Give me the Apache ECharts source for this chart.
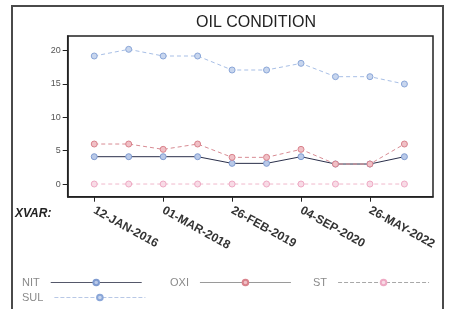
<!DOCTYPE html>
<html>
<head>
<meta charset="utf-8">
<script src="https://cdn.jsdelivr.net/npm/echarts@6/dist/echarts.min.js"></script>
<style>
  html, body { margin: 0; padding: 0; background: #fff; }
  #chart { width: 450px; height: 309px; }
</style>
</head>
<body>
<div id="chart"></div>
<script>
const dates = [
  "12-JAN-2016", "15-JUN-2017", "01-MAR-2018", "20-SEP-2018", "26-FEB-2019",
  "10-NOV-2019", "04-SEP-2020", "18-MAR-2021", "26-MAY-2022", "14-NOV-2022"
];
const sulValues = [19.2, 20.2, 19.2, 19.2, 17.1, 17.1, 18.1, 16.1, 16.1, 15.0];
const oxiValues = [6.0, 6.0, 5.2, 6.0, 4.0, 4.0, 5.2, 3.0, 3.0, 6.0];
const nitValues = [4.1, 4.1, 4.1, 4.1, 3.1, 3.1, 4.1, 3.0, 3.0, 4.1];
const stValues = [0, 0, 0, 0, 0, 0, 0, 0, 0, 0];
const yTicks = [0, 5, 10, 15, 20];
const xTickIdx = [0, 2, 4, 6, 8];

function pairs(values) {
  return values.map((v, i) => [i, v]);
}

function lineSeries(name, values, lineColor, dash, markColor, markFill) {
  return {
    name,
    type: "line",
    data: pairs(values),
    symbol: "circle",
    symbolSize: 6,
    lineStyle: { color: lineColor, width: 1, type: dash },
    itemStyle: { color: markFill, borderColor: markColor, borderWidth: 1 },
    emphasis: { disabled: true },
  };
}

// one legend box per entry so each sits where the SAS legend put it
function legendEntry(name, left, top, lineColor, dash) {
  return {
    left,
    top,
    orient: "horizontal",
    align: "right",
    itemWidth: 91,
    itemHeight: 7,
    selectedMode: false,
    textStyle: {
      color: "#8a8a8a",
      fontSize: 11,
      fontFamily: "Liberation Sans",
      padding: [0, 6, 0, 0],
    },
    data: [{ name, lineStyle: { color: lineColor, type: dash, width: 1 } }],
  };
}

const chart = echarts.init(document.getElementById("chart"), null, { renderer: "canvas" });

chart.setOption({
  animation: false,
  title: {
    text: "OIL CONDITION",
    left: 251,
    top: 10,
    textAlign: "center",
    textStyle: { fontFamily: "Liberation Sans", fontSize: 16, fontWeight: "normal", color: "#222" },
  },
  graphic: [
    {
      type: "rect",
      shape: { x: 12, y: 6, width: 431, height: 320 },
      style: { fill: "none", stroke: "#4a4a4a", lineWidth: 2 },
      silent: true,
    },
    {
      type: "text",
      left: 15,
      top: 208,
      style: {
        text: "XVAR:",
        font: "italic bold 12px 'Liberation Sans'",
        fill: "#222",
      },
    },
  ],
  legend: [
    legendEntry("NIT", 17, 272, "#55586a", "solid"),
    legendEntry("OXI", 165, 272, "#9a9a9a", "solid"),
    legendEntry("ST", 308, 272, "#a8a8a8", [4, 2]),
    legendEntry("SUL", 17, 287, "#b8c8e6", [4, 2]),
  ],
  grid: {
    left: 67.7,
    top: 36,
    width: 365.3,
    height: 160.7,
    show: true,
    borderColor: "#222",
    borderWidth: 1.5,
    backgroundColor: "#fff",
  },
  xAxis: {
    type: "value",
    min: -0.77,
    max: 9.83,
    splitLine: { show: false },
    axisLine: { show: true, onZero: false, lineStyle: { color: "#222", width: 1.5 } },
    axisTick: { show: true, length: 5, lineStyle: { color: "#222" }, customValues: xTickIdx },
    axisLabel: {
      customValues: xTickIdx,
      formatter: (v) => dates[v],
      rotate: -29,
      margin: 13,
      fontSize: 12,
      fontWeight: "bold",
      fontFamily: "Liberation Sans",
      color: "#333",
    },
  },
  yAxis: {
    type: "value",
    min: -1.9,
    max: 22.2,
    splitLine: { show: false },
    axisLine: { show: true, onZero: false, lineStyle: { color: "#222", width: 1.5 } },
    axisTick: { show: true, length: 5, lineStyle: { color: "#222" }, customValues: yTicks },
    axisLabel: {
      customValues: yTicks,
      fontSize: 9,
      margin: 7,
      color: "#555",
      fontFamily: "Liberation Sans",
    },
  },
  series: [
    lineSeries("SUL", sulValues, "#a8bfe6", [4, 3], "#8aa6d8", "#c8d6ee"),
    lineSeries("ST", stValues, "#f0b8cc", [4, 3], "#eeaac4", "#f8dbe6"),
    lineSeries("NIT", nitValues, "#2a2f4a", "solid", "#7f9bd0", "#b9c9e8"),
    lineSeries("OXI", oxiValues, "#d88c94", [4, 3], "#d9828c", "#f0c0c6"),
  ],
});
</script>
</body>
</html>
